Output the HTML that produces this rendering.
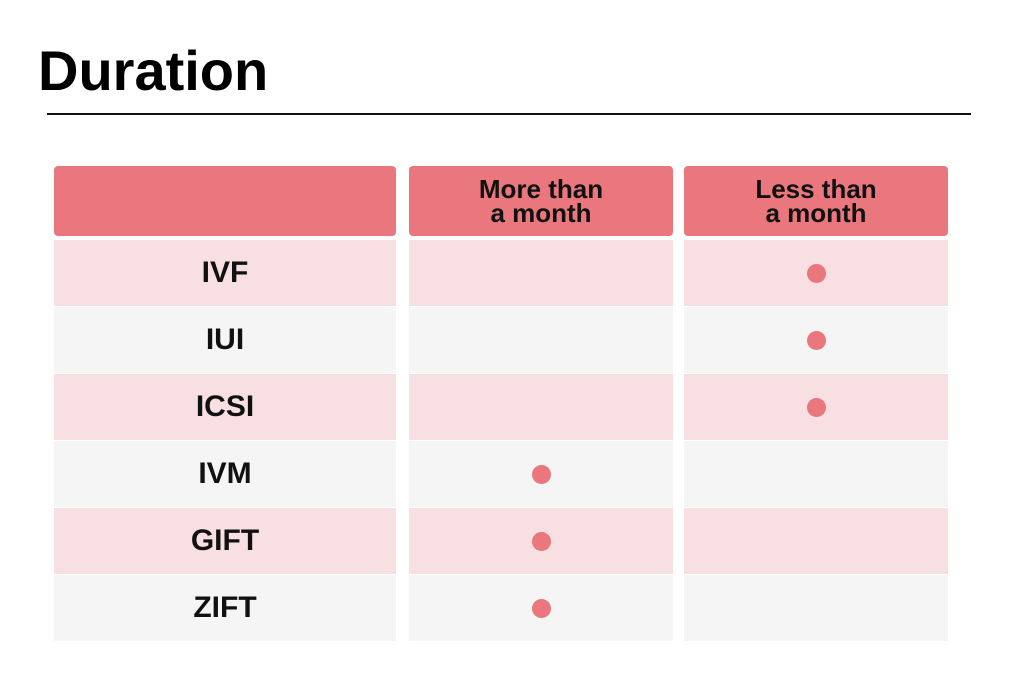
<!DOCTYPE html>
<html><head><meta charset="utf-8"><style>
body{margin:0;width:1024px;height:693px;background:#fff;position:relative;overflow:hidden;font-family:"Liberation Sans","DejaVu Sans",sans-serif}
.a{position:absolute;box-sizing:border-box}
.hd{background:#e9777d;border-radius:4px;display:flex;align-items:center;justify-content:center;text-align:center;font-weight:bold;font-size:26px;line-height:24px;color:#111}
.cell{display:flex;align-items:center;justify-content:center;font-weight:bold;font-size:30px;color:#111}
.dot{width:19px;height:19px;border-radius:50%;background:#e9777d}
</style></head><body>
<div class="a" style="left:38px;top:38px;font-size:56px;font-weight:bold;color:#000;line-height:66px">Duration</div>
<div class="a" style="left:47px;top:113px;width:924px;height:2px;background:#111"></div>
<div class="a hd" style="left:54px;top:166px;width:342px;height:70px"></div>
<div class="a hd" style="left:409px;top:166px;width:264px;height:70px">More than<br>a month</div>
<div class="a hd" style="left:684px;top:166px;width:264px;height:70px">Less than<br>a month</div>
<div id="rows"></div>
<script>
const methods=["IVF","IUI","ICSI","IVM","GIFT","ZIFT"];
const moreThanMonth=[0,0,0,1,1,1];
const lessThanMonth=[1,1,1,0,0,0];
const root=document.getElementById('rows');
const top0=240,rh=67;
const cols=[[54,342],[409,264],[684,264]];
methods.forEach((m,i)=>{
  const y=top0+i*rh;
  const bg=i%2===0?'#f7dfe2':'#f5f5f5';
  const vals=[null,moreThanMonth[i],lessThanMonth[i]];
  cols.forEach((c,j)=>{
    const d=document.createElement('div');
    d.className='a cell';
    d.style.cssText=`left:${c[0]}px;top:${y}px;width:${c[1]}px;height:${rh-1}px;background:${bg}`;
    if(j===0){d.textContent=m;
      
    }else{
      
      if(vals[j]){const k=document.createElement('div');k.className='dot';
        
        
        d.appendChild(k);}
    }
    
    root.appendChild(d);
  });
});
</script>
</body></html>
